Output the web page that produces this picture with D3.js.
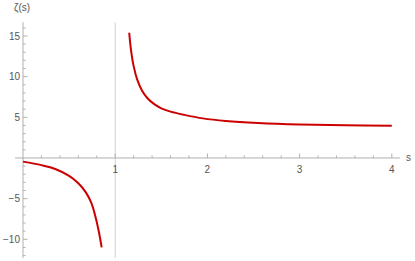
<!DOCTYPE html>
<html>
<head>
<meta charset="utf-8">
<script src="https://cdn.jsdelivr.net/npm/d3@7"></script>
<style>
  body { margin: 0; background: #fff; }
  text { font-family: "Liberation Sans", Arial, sans-serif; }
</style>
</head>
<body>
<div id="vis"></div>
<script>
const WIDTH = 415;
const HEIGHT = 261;

// rama izquierda (s < 1)
const sLeft = [0, 0.2, 0.35, 0.5, 0.6, 0.68, 0.74, 0.79, 0.825, 0.853];
const zLeft = [-0.45, -0.88, -1.35, -2.2, -3.1, -4.2, -5.5, -7.4, -9.2, -11.0];

// rama derecha (s > 1)
const sRight = [1.152, 1.17, 1.2, 1.24, 1.29, 1.35, 1.42, 1.5, 1.6, 1.75, 1.95, 2.2, 2.55, 3.0, 3.5, 4.0];
const zRight = [15.4, 13.4, 11.3, 9.6, 8.3, 7.35, 6.65, 6.1, 5.7, 5.3, 4.87, 4.55, 4.3, 4.12, 4.03, 3.97];

const xMajor = [1, 2, 3, 4];
const yMajor = [-10, -5, 5, 10, 15];

const SVG = d3.select("#vis").append("svg")
  .attr("width", WIDTH).attr("height", HEIGHT);

const x = d3.scaleLinear().domain([0, 4]).range([23, 391.8]);
const y = d3.scaleLinear().domain([-10, 15]).range([239.3, 36]);

const xLo = -0.087, xHi = 4.09;
const yLo = -12.3, yHi = 16.7;

const AXIS = "#b0b0b0";
const LABEL = "#555";

// linea vertical en s = 1
SVG.append("line")
  .attr("x1", x(1)).attr("x2", x(1))
  .attr("y1", y(yHi)).attr("y2", y(yLo))
  .attr("stroke", "#d0d0d0").attr("stroke-width", 1);

// eje x
SVG.append("line")
  .attr("x1", x(xLo)).attr("x2", x(xHi))
  .attr("y1", y(0)).attr("y2", y(0))
  .attr("stroke", AXIS);

// eje y
SVG.append("line")
  .attr("x1", x(0)).attr("x2", x(0))
  .attr("y1", y(yHi)).attr("y2", y(yLo))
  .attr("stroke", AXIS);

// ticks x
const xMinor = d3.range(0.2, 4.01, 0.2).filter(v => Math.abs(v - Math.round(v)) > 0.01);
SVG.selectAll(".xminor").data(xMinor).join("line")
  .attr("x1", d => x(d)).attr("x2", d => x(d))
  .attr("y1", y(0)).attr("y2", y(0) - 2.5)
  .attr("stroke", AXIS);
SVG.selectAll(".xmajor").data(xMajor).join("line")
  .attr("x1", d => x(d)).attr("x2", d => x(d))
  .attr("y1", y(0)).attr("y2", y(0) - 4.5)
  .attr("stroke", AXIS);
SVG.selectAll(".xlab").data(xMajor).join("text")
  .attr("x", d => x(d)).attr("y", y(0) + 15)
  .attr("text-anchor", "middle")
  .attr("fill", LABEL).style("font-size", "10px")
  .text(d => d);

// ticks y
const yMinor = d3.range(-12, 17, 1).filter(v => v % 5 !== 0);
SVG.selectAll(".yminor").data(yMinor).join("line")
  .attr("x1", x(0)).attr("x2", x(0) + 2.5)
  .attr("y1", d => y(d)).attr("y2", d => y(d))
  .attr("stroke", AXIS);
SVG.selectAll(".ymajor").data(yMajor).join("line")
  .attr("x1", x(0)).attr("x2", x(0) + 4.5)
  .attr("y1", d => y(d)).attr("y2", d => y(d))
  .attr("stroke", AXIS);
SVG.selectAll(".ylab").data(yMajor).join("text")
  .attr("x", x(0) - 3).attr("y", d => y(d) + 3.5)
  .attr("text-anchor", "end")
  .attr("fill", LABEL).style("font-size", "10px")
  .text(d => d < 0 ? "\u2212" + Math.abs(d) : d);

// etiquetas de ejes
SVG.append("text")
  .attr("x", 14).attr("y", 11)
  .attr("fill", LABEL).style("font-size", "10px")
  .text("\u03B6(s)");
SVG.append("text")
  .attr("x", 406).attr("y", 161)
  .attr("fill", LABEL).style("font-size", "10px")
  .text("s");

// curvas
const linea = d3.line()
  .x(d => x(d[0]))
  .y(d => y(d[1]))
  .curve(d3.curveCatmullRom.alpha(0.5));

const ramas = [d3.zip(sLeft, zLeft), d3.zip(sRight, zRight)];
SVG.selectAll(".rama").data(ramas).join("path")
  .attr("d", linea)
  .attr("fill", "none")
  .attr("stroke", "#cc0000")
  .attr("stroke-width", 2);
</script>
</body>
</html>
